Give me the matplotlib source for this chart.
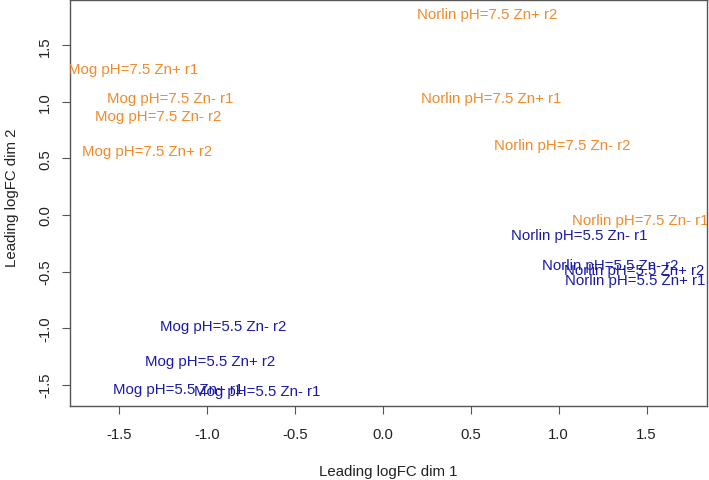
import matplotlib
matplotlib.use("Agg")
import matplotlib.pyplot as plt

plt.rcParams['font.family'] = ['Liberation Sans', 'DejaVu Sans']

labels = [
    "Mog pH=7.5 Zn+ r1", "Mog pH=7.5 Zn- r1", "Mog pH=7.5 Zn- r2", "Mog pH=7.5 Zn+ r2",
    "Norlin pH=7.5 Zn+ r2", "Norlin pH=7.5 Zn+ r1", "Norlin pH=7.5 Zn- r2", "Norlin pH=7.5 Zn- r1",
    "Norlin pH=5.5 Zn- r1", "Norlin pH=5.5 Zn- r2", "Norlin pH=5.5 Zn+ r2", "Norlin pH=5.5 Zn+ r1",
    "Mog pH=5.5 Zn- r2", "Mog pH=5.5 Zn+ r2", "Mog pH=5.5 Zn+ r1", "Mog pH=5.5 Zn- r1",
]
dim1 = [-1.420, -1.207, -1.276, -1.339,
        0.591, 0.617, 1.023, 1.462,
        1.119, 1.294, 1.430, 1.435,
        -0.909, -0.983, -1.161, -0.711]
dim2 = [1.291, 1.032, 0.878, 0.569,
        1.777, 1.034, 0.619, -0.043,
        -0.174, -0.439, -0.484, -0.575,
        -0.984, -1.291, -1.538, -1.556]
groups = ["pH=7.5"] * 8 + ["pH=5.5"] * 8
group_colors = {"pH=7.5": "#F28A2A", "pH=5.5": "#1A1AAA"}

x_ticks = [-1.5, -1.0, -0.5, 0.0, 0.5, 1.0, 1.5]
y_ticks = [-1.5, -1.0, -0.5, 0.0, 0.5, 1.0, 1.5]

fig = plt.figure(figsize=(7.09, 4.81), dpi=100)
ax = fig.add_axes([70 / 709, (481 - 407) / 481, (707 - 70) / 709, (407 - 1) / 481])
ax.set_xlim(-1.777, 1.843)
ax.set_ylim(-1.689, 1.901)

for lab, x, y, g in zip(labels, dim1, dim2, groups):
    ax.text(x, y, lab, color=group_colors[g], fontsize=10.8, ha="center", va="center",
            clip_on=True)

ax.set_xticks(x_ticks)
ax.set_xticklabels([f"{t:.1f}" for t in x_ticks])
ax.set_yticks(y_ticks)
ax.set_yticklabels([f"{t:.1f}" for t in y_ticks], rotation=90, va="center")
ax.tick_params(direction="out", length=6, width=0.8, color="#555555", labelsize=10.7,
               labelcolor="#222222")
ax.tick_params(axis="x", pad=9)
ax.tick_params(axis="y", pad=7)
for s in ax.spines.values():
    s.set_color("#555555")
    s.set_linewidth(1.0)

ax.set_xlabel("Leading logFC dim 1", fontsize=10.8, color="#222222", va="center")
ax.set_ylabel("Leading logFC dim 2", fontsize=10.8, color="#222222", va="center")
ax.xaxis.set_label_coords(0.499, -0.159)
ax.yaxis.set_label_coords(-0.091, 0.515)

fig.savefig("out.png", dpi=100)
